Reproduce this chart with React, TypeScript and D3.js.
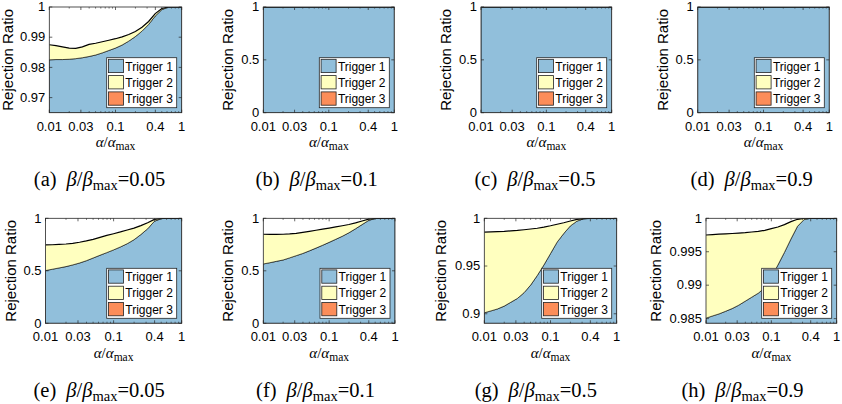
import React from "react";
import * as d3 from "d3";

// alpha / alpha_max sample points (log grid, 0.1 decade apart)
const alphaGrid = [
  0.01, 0.0126, 0.0158, 0.02, 0.0251, 0.0316, 0.0398, 0.0501, 0.0631, 0.0794,
  0.1, 0.1259, 0.1585, 0.1995, 0.2512, 0.3162, 0.3981, 0.5012, 0.631, 0.7943, 1,
];

const xTicks = [0.01, 0.03, 0.1, 0.4, 1];
const xTickLabels = ["0.01", "0.03", "0.1", "0.4", "1"];
const legendLabels = ["Trigger 1", "Trigger 2", "Trigger 3"];
const triggerColors = ["#91bfdb", "#ffffbf", "#fc8d59"];

const panelLetters = ["a", "b", "c", "d", "e", "f", "g", "h"];
const betaValues = ["0.05", "0.1", "0.5", "0.9", "0.05", "0.1", "0.5", "0.9"];

const yDomains = [
  [0.965, 1], [0, 1], [0, 1], [0, 1],
  [0, 1], [0, 1], [0.89, 1], [0.9843, 1],
];
const yTickValues = [
  [0.97, 0.98, 0.99, 1], [0, 0.5, 1], [0, 0.5, 1], [0, 0.5, 1],
  [0, 0.5, 1], [0, 0.5, 1], [0.9, 0.95, 1], [0.985, 0.99, 0.995, 1],
];

const ones = [1, 1, 1, 1, 1, 1, 1, 1, 1, 1, 1, 1, 1, 1, 1, 1, 1, 1, 1, 1, 1];

// cumulative rejection ratio: trigger 1 only
const trigger1 = [
  [0.9825, 0.9826, 0.9826, 0.9827, 0.9829, 0.9832, 0.9836, 0.9841, 0.9848, 0.9856, 0.9864, 0.9874, 0.9887, 0.9902, 0.992, 0.9942, 0.997, 0.9991, 1, 1, 1],
  ones,
  ones,
  ones,
  [0.502, 0.515, 0.527, 0.54, 0.556, 0.574, 0.596, 0.622, 0.648, 0.673, 0.699, 0.727, 0.758, 0.796, 0.845, 0.9, 0.972, 0.997, 1, 1, 1],
  [0.565, 0.577, 0.59, 0.603, 0.623, 0.644, 0.665, 0.69, 0.716, 0.743, 0.771, 0.8, 0.829, 0.862, 0.9, 0.94, 0.98, 0.998, 1, 1, 1],
  [0.901, 0.903, 0.905, 0.908, 0.912, 0.916, 0.922, 0.93, 0.94, 0.951, 0.963, 0.975, 0.984, 0.992, 0.997, 0.9995, 1, 1, 1, 1, 1],
  [0.98507, 0.9854, 0.9857, 0.9861, 0.9865, 0.987, 0.9876, 0.9882, 0.9888, 0.9896, 0.9912, 0.993, 0.9949, 0.9969, 0.9988, 0.9998, 1, 1, 1, 1, 1],
];

// cumulative: trigger 1 + trigger 2 (trigger 3 adds nothing visible)
const trigger12 = [
  [0.9875, 0.9872, 0.9868, 0.9864, 0.9863, 0.9868, 0.9876, 0.988, 0.9885, 0.989, 0.9895, 0.9901, 0.9909, 0.9919, 0.9933, 0.9952, 0.9978, 0.9995, 1, 1, 1],
  ones,
  ones,
  ones,
  [0.746, 0.748, 0.751, 0.755, 0.762, 0.772, 0.785, 0.8, 0.819, 0.837, 0.853, 0.87, 0.889, 0.907, 0.93, 0.958, 0.99, 1, 1, 1, 1],
  [0.848, 0.847, 0.847, 0.848, 0.851, 0.857, 0.866, 0.876, 0.886, 0.897, 0.907, 0.918, 0.929, 0.941, 0.956, 0.974, 0.992, 1, 1, 1, 1],
  [0.9855, 0.9857, 0.986, 0.9863, 0.9868, 0.9873, 0.988, 0.9888, 0.9896, 0.9908, 0.9922, 0.9938, 0.9953, 0.9972, 0.9988, 0.9997, 1, 1, 1, 1, 1],
  [0.9975, 0.99755, 0.99762, 0.99768, 0.99773, 0.99778, 0.99785, 0.99795, 0.99805, 0.9982, 0.99845, 0.9987, 0.99905, 0.9995, 0.99985, 1, 1, 1, 1, 1, 1],
];

// layout of each subplot (pixels)
const boxes = [
  { x0: 49.3, x1: 181.7, y0: 7, y1: 112.7, labelX: 9.5, capX: 99.5 },
  { x0: 263.3, x1: 394.3, y0: 7, y1: 112.7, labelX: 229, capX: 316.7 },
  { x0: 481, x1: 611.7, y0: 7, y1: 112.7, labelX: 447.5, capX: 535 },
  { x0: 697.7, x1: 829.3, y0: 7, y1: 112.7, labelX: 664, capX: 751.7 },
  { x0: 45.5, x1: 181.7, y0: 218.3, y1: 323.3, labelX: 12.5, capX: 99.2 },
  { x0: 263.3, x1: 395, y0: 218.3, y1: 323.3, labelX: 229, capX: 315.5 },
  { x0: 484.3, x1: 616.7, y0: 218.3, y1: 323.3, labelX: 442.5, capX: 535.8 },
  { x0: 706, x1: 836.7, y0: 218.3, y1: 323.3, labelX: 657.5, capX: 742.5 },
];

const sans = "'Liberation Sans', Arial, Helvetica, sans-serif";
const serif = "'Liberation Serif', 'Times New Roman', serif";
const axisColor = "#262626";

const Panel = ({ idx }: { idx: number }) => {
  const b = boxes[idx];
  const x = d3.scaleLog().domain([0.01, 1]).range([b.x0, b.x1]);
  const y = d3.scaleLinear().domain(yDomains[idx]).range([b.y1, b.y0]);
  const pts = alphaGrid.map((a, i) => ({ a, t1: trigger1[idx][i], t12: trigger12[idx][i] }));

  const blue = d3.area<any>().x(d => x(d.a)).y0(y(yDomains[idx][0])).y1(d => y(d.t1));
  const yellow = d3.area<any>().x(d => x(d.a)).y0(d => y(d.t1)).y1(d => y(d.t12));
  const topLine = d3.line<any>().x(d => x(d.a)).y(d => y(d.t12));
  const midLine = d3.line<any>().x(d => x(d.a)).y(d => y(d.t1));

  const minor = x.ticks().filter(t => !xTicks.some(m => Math.abs(m - t) < 1e-9));
  const clipId = `clip-${idx}`;
  const lw = 70, lh = 50;
  const lx = b.x1 - 5 - lw, ly = b.y1 - 5 - lh;
  const cy = (b.y0 + b.y1) / 2;

  return (
    <g>
      <defs>
        <clipPath id={clipId}>
          <rect x={b.x0} y={b.y0} width={b.x1 - b.x0} height={b.y1 - b.y0} />
        </clipPath>
      </defs>
      <rect x={b.x0} y={b.y0} width={b.x1 - b.x0} height={b.y1 - b.y0} fill="#fff" />
      <g clipPath={`url(#${clipId})`}>
        <path d={blue(pts) || ""} fill={triggerColors[0]} stroke="#000" strokeWidth={0.6} />
        <path d={yellow(pts) || ""} fill={triggerColors[1]} stroke="none" />
        <path d={midLine(pts) || ""} fill="none" stroke="#000" strokeWidth={0.6} />
        <path d={topLine(pts) || ""} fill="none" stroke="#000" strokeWidth={1.2} />
      </g>
      {/* ticks */}
      {xTicks.map(t => (
        <g key={"xt" + t}>
          <line x1={x(t)} x2={x(t)} y1={b.y1} y2={b.y1 - 3} stroke={axisColor} strokeWidth={0.7} />
          <line x1={x(t)} x2={x(t)} y1={b.y0} y2={b.y0 + 3} stroke={axisColor} strokeWidth={0.7} />
        </g>
      ))}
      {minor.map(t => (
        <g key={"xm" + t}>
          <line x1={x(t)} x2={x(t)} y1={b.y1} y2={b.y1 - 1.6} stroke={axisColor} strokeWidth={0.6} />
          <line x1={x(t)} x2={x(t)} y1={b.y0} y2={b.y0 + 1.6} stroke={axisColor} strokeWidth={0.6} />
        </g>
      ))}
      {yTickValues[idx].map(t => (
        <g key={"yt" + t}>
          <line x1={b.x0} x2={b.x0 + 3} y1={y(t)} y2={y(t)} stroke={axisColor} strokeWidth={0.7} />
          <line x1={b.x1} x2={b.x1 - 3} y1={y(t)} y2={y(t)} stroke={axisColor} strokeWidth={0.7} />
          <text x={b.x0 - 4} y={y(t)} dy="0.33em" textAnchor="end" fontFamily={sans} fontSize={13} fill="#000">
            {String(t)}
          </text>
        </g>
      ))}
      <rect x={b.x0} y={b.y0} width={b.x1 - b.x0} height={b.y1 - b.y0} fill="none" stroke={axisColor} strokeWidth={0.8} />
      {xTicks.map((t, i) => (
        <text key={"xl" + t} x={x(t)} y={b.y1 + 18} textAnchor="middle" fontFamily={sans} fontSize={13} fill="#000">
          {xTickLabels[i]}
        </text>
      ))}
      {/* legend */}
      <rect x={lx} y={ly} width={lw} height={lh} fill="#fff" stroke={axisColor} strokeWidth={0.8} />
      {legendLabels.map((l, k) => (
        <g key={l}>
          <rect x={lx + 1.8} y={ly + 1.6 + k * 16.3} width={15} height={13.3} fill={triggerColors[k]} stroke="#222" strokeWidth={0.8} />
          <text x={lx + 18.6} y={ly + 1.6 + k * 16.3 + 11.2} fontFamily={sans} fontSize={12} fill="#000">{l}</text>
        </g>
      ))}
      {/* y label */}
      <text transform={`translate(${b.labelX},${cy}) rotate(-90)`} textAnchor="middle" dominantBaseline="middle" fontFamily={sans} fontSize={15} fill="#000">
        Rejection Ratio
      </text>
      {/* x label */}
      <text x={(b.x0 + b.x1) / 2} y={b.y1 + 34.5} textAnchor="middle" fontFamily={serif} fill="#000">
        <tspan fontStyle="italic" fontSize={15}>α</tspan>
        <tspan fontSize={15}>/</tspan>
        <tspan fontStyle="italic" fontSize={15}>α</tspan>
        <tspan fontSize={11.5} dy={3}>max</tspan>
      </text>
      {/* caption */}
      <text x={b.capX} y={b.y1 + 73.5} textAnchor="middle" fontFamily={serif} fill="#000" fontSize={20.5}>
        <tspan>({panelLetters[idx]})</tspan>
        <tspan dx={10} fontStyle="italic">β</tspan>
        <tspan>/</tspan>
        <tspan fontStyle="italic">β</tspan>
        <tspan fontSize={14.5} dy={4}>max</tspan>
        <tspan dy={-4}>={betaValues[idx]}</tspan>
      </text>
    </g>
  );
};

export default function App() {
  return (
    <svg width={842} height={404} style={{ position: "absolute", left: 0, top: 0, background: "#fff" }}>
      <rect width={842} height={404} fill="#fff" />
      {boxes.map((_, i) => (
        <Panel key={i} idx={i} />
      ))}
    </svg>
  );
}
